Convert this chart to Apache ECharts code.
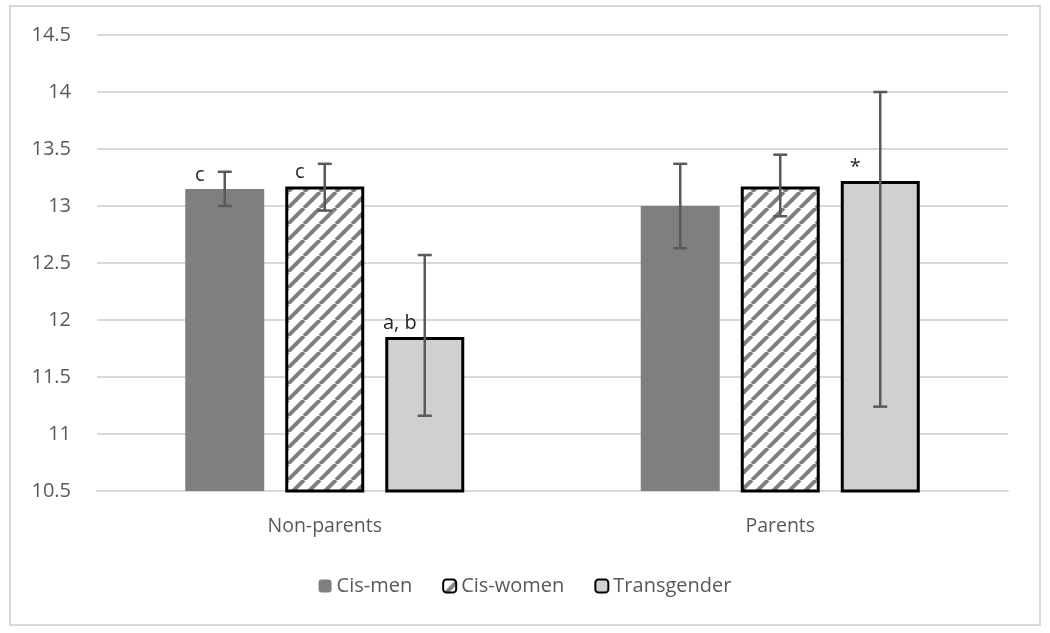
<!DOCTYPE html>
<html>
<head>
<meta charset="utf-8">
<script src="https://cdn.jsdelivr.net/npm/echarts@6/dist/echarts.min.js"></script>
<style>html,body{margin:0;padding:0;background:#fff}#c{width:1050px;height:633px}</style>
</head>
<body>
<div id="c"></div>
<script>
// ---- data ----
const categories = ['Non-parents', 'Parents'];
const seriesNames = ['Cis-men', 'Cis-women', 'Transgender'];
const cisMen = [13.15, 13.00];
const cisWomen = [13.17, 13.17];
const transgender = [11.85, 13.22];
const cisMenErr = [[13.00, 13.30], [12.63, 13.37]];
const cisWomenErr = [[12.96, 13.37], [12.91, 13.45]];
const transgenderErr = [[11.16, 12.57], [11.24, 14.00]];
const cisMenNotes = ['c', ''];
const cisWomenNotes = ['c', ''];
const transgenderNotes = ['a, b', '*'];
const yTicks = { min: 10.5, max: 14.5, interval: 0.5 };

// ---- hatch pattern ----
const pc = document.createElement('canvas');
pc.width = 16; pc.height = 16;
const g = pc.getContext('2d');
g.fillStyle = '#ffffff'; g.fillRect(0, 0, 16, 16);
g.strokeStyle = '#7f7f7f'; g.lineWidth = 4;
for (const k of [-16, 0, 16]) { g.beginPath(); g.moveTo(k, 16); g.lineTo(k + 16, 0); g.stroke(); }

const BAR_W = 79, STEP = 100;
const font = '"Open Sans", "Noto Sans", sans-serif';
const valuesList = [cisMen, cisWomen, transgender];
const errList = [cisMenErr, cisWomenErr, transgenderErr];
const notesList = [cisMenNotes, cisWomenNotes, transgenderNotes];
const styles = [
  { color: '#7f7f7f', borderWidth: 0 },
  { color: { image: pc, repeat: 'repeat' }, borderColor: '#000', borderWidth: 3 },
  { color: '#d0d0d0', borderColor: '#000', borderWidth: 3 }
];

const series = [];
seriesNames.forEach((name, i) => {
  series.push({
    name, type: 'bar', data: valuesList[i], barWidth: BAR_W, barGap: '26.6%',
    itemStyle: styles[i],
    label: {
      show: true, position: 'top', offset: [-25, 1], color: '#262626',
      fontSize: 20, fontFamily: font,
      formatter: p => notesList[i][p.dataIndex]
    },
    z: 2
  });
});
errList.forEach((errs, i) => {
  series.push({
    type: 'custom', name: seriesNames[i] + ' err',
    data: errs.map((e, j) => [j, e[0], e[1]]),
    encode: { x: 0, y: [1, 2] },
    z: 5, silent: true,
    renderItem: (params, api) => {
      const c = api.value(0);
      const lo = api.coord([c, api.value(1)]);
      const hi = api.coord([c, api.value(2)]);
      const x = lo[0] + (i - 1) * STEP;
      const st = { stroke: '#595959', lineWidth: 2.5 };
      return { type: 'group', children: [
        { type: 'line', shape: { x1: x, y1: lo[1], x2: x, y2: hi[1] }, style: st },
        { type: 'line', shape: { x1: x - 7, y1: lo[1], x2: x + 7, y2: lo[1] }, style: st },
        { type: 'line', shape: { x1: x - 7, y1: hi[1], x2: x + 7, y2: hi[1] }, style: st }
      ]};
    }
  });
});

const chart = echarts.init(document.getElementById('c'), null, { renderer: 'canvas' });
chart.setOption({
  animation: false,
  backgroundColor: '#fff',
  graphic: [{ type: 'rect', shape: { x: 10, y: 6, width: 1030, height: 619 }, style: { fill: 'none', stroke: '#d9d9d9', lineWidth: 2 }, z: -1 }],
  grid: { left: 97, right: 42, top: 35, bottom: 142 },
  legend: {
    data: seriesNames, top: 571, left: 'center', itemWidth: 13, itemHeight: 13, itemGap: 30,
    textStyle: { fontSize: 20, color: '#595959', fontFamily: font }
  },
  xAxis: {
    type: 'category', data: categories,
    axisLine: { lineStyle: { color: '#d9d9d9', width: 2 } },
    axisTick: { show: false },
    axisLabel: { fontSize: 19.5, color: '#595959', margin: 25, fontFamily: font }
  },
  yAxis: {
    type: 'value', min: yTicks.min, max: yTicks.max, interval: yTicks.interval,
    axisLine: { show: false }, axisTick: { show: false },
    axisLabel: { fontSize: 20, color: '#595959', margin: 26, fontFamily: font },
    splitLine: { lineStyle: { color: '#d9d9d9', width: 2 } }
  },
  series
});
</script>
</body>
</html>
